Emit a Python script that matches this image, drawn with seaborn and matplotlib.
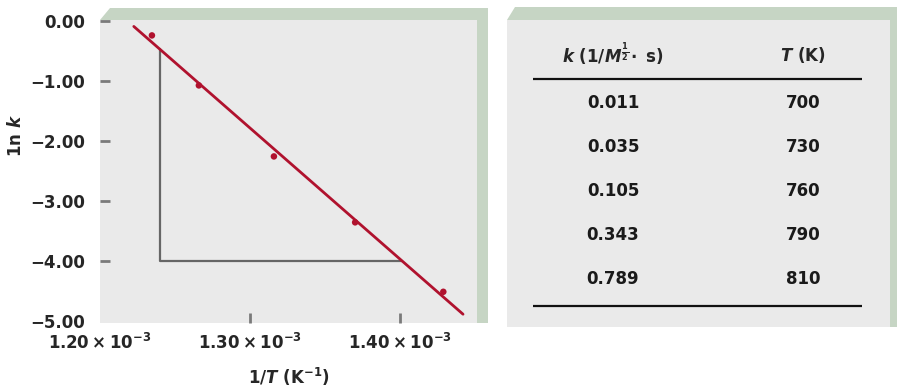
import numpy as np
import pandas as pd
import matplotlib
matplotlib.use("Agg")
import matplotlib.pyplot as plt
import seaborn as sns
from matplotlib.patches import Polygon

rate_k = [0.011, 0.035, 0.105, 0.343, 0.789]
temp_K = [700, 730, 760, 790, 810]
k_labels = ["0.011", "0.035", "0.105", "0.343", "0.789"]
T_labels = ["700", "730", "760", "790", "810"]

yticks = [0.0, -1.0, -2.0, -3.0, -4.0, -5.0]
ytick_labels = ["0.00", "\u22121.00", "\u22122.00", "\u22123.00", "\u22124.00", "\u22125.00"]
xticks = [1.20e-3, 1.30e-3, 1.40e-3]
xtick_labels = [r"$1.20\times10^{-3}$", r"$1.30\times10^{-3}$", r"$1.40\times10^{-3}$"]

fit_range = [1.2225e-3, 1.4417e-3]   # extent of the fitted line
slope_x = 1.24e-3                    # left side of the slope triangle
slope_y = -4.0                       # bottom side of the slope triangle

W, H = 897, 388
RED = "#b0122e"
GRAY_BG = "#eaeaea"
GREEN = "#c6d5c4"

sns.set_theme(style="white")
plt.rcParams["font.family"] = ["DejaVu Sans"]
plt.rcParams["font.weight"] = "bold"
plt.rcParams["mathtext.fontset"] = "custom"
plt.rcParams["mathtext.rm"] = "DejaVu Sans:bold"
plt.rcParams["mathtext.bf"] = "DejaVu Sans:bold"
plt.rcParams["mathtext.it"] = "DejaVu Sans:italic:bold"


def px(x, y):
    return (x / W, 1 - y / H)


def box(x0, y0, x1, y1):
    return [x0 / W, 1 - y1 / H, (x1 - x0) / W, (y1 - y0) / H]


df = pd.DataFrame({"k": rate_k, "T": temp_K})
df["invT"] = 1.0 / df["T"]
df["lnk"] = np.log(df["k"])
m, b = np.polyfit(df["invT"], df["lnk"], 1)
fit = pd.DataFrame({"x": fit_range})
fit["y"] = m * fit["x"] + b

fig = plt.figure(figsize=(W / 100, H / 100), dpi=100)

# green bevelled frames
fig.patches.append(Polygon([px(100, 20), px(110, 8), px(488, 8), px(488, 323),
                            px(477, 323), px(477, 20)], closed=True,
                           transform=fig.transFigure, facecolor=GREEN, edgecolor="none"))
fig.patches.append(Polygon([px(507, 20), px(515, 7), px(897, 7), px(897, 327),
                            px(890, 327), px(890, 20)], closed=True,
                           transform=fig.transFigure, facecolor=GREEN, edgecolor="none"))

# ---- left: Arrhenius plot
ax = fig.add_axes(box(100, 20, 477, 323))
ax.set_facecolor(GRAY_BG)
for s in ax.spines.values():
    s.set_visible(False)

sns.lineplot(data=fit, x="x", y="y", color=RED, lw=2.0, ax=ax, zorder=3)
sns.scatterplot(data=df, x="invT", y="lnk", color=RED, s=22, edgecolor="none", ax=ax, zorder=4)

x_int = (slope_y - b) / m
y_top = m * slope_x + b
ax.plot([slope_x, slope_x, x_int], [y_top, slope_y, slope_y], color="#666666", lw=1.6, zorder=2)

ax.set_xlim(1.2013e-3, 1.4510e-3)
ax.set_ylim(-5.03, 0.02)
ax.set_yticks(yticks)
ax.set_yticklabels(ytick_labels, fontsize=12, fontweight="bold")
ax.set_xticks(xticks)
ax.set_xticklabels(xtick_labels, fontsize=12)
ax.tick_params(axis="y", direction="in", length=7, width=2, color="#7a7a7a", pad=11, left=True)
ax.tick_params(axis="x", direction="in", length=7, width=2, color="#7a7a7a", pad=7, bottom=True)
ax.yaxis.get_major_ticks()[5].tick1line.set_visible(False)
ax.xaxis.get_major_ticks()[0].tick1line.set_visible(False)

ax.set_xlabel(r"$1/T\ (\mathrm{K}^{-1})$", fontsize=12)
ax.set_ylabel(r"$\mathrm{1n}\ k$", fontsize=12)
ax.xaxis.set_label_coords(0.5, -0.142)
ax.yaxis.set_label_coords(-0.2, 0.62)

# ---- right: data table
tx = fig.add_axes(box(507, 20, 890, 327))
tx.set_facecolor(GRAY_BG)
for s in tx.spines.values():
    s.set_visible(False)
tx.set_xticks([])
tx.set_yticks([])
tx.set_xlim(507, 890)
tx.set_ylim(327, 20)

col_k, col_T = 613, 803
tx.text(col_k, 55, r"$k\ (1/M^{\frac{1}{2}}\!\bullet\ \mathrm{s})$", ha="center", va="center", fontsize=12)
tx.text(col_T, 55, r"$T\ (\mathrm{K})$", ha="center", va="center", fontsize=12)
tx.hlines([79, 306], 533, 862, color="#111111", lw=1.6)
for i, (kl, tl) in enumerate(zip(k_labels, T_labels)):
    yy = 103 + 44 * i
    tx.text(col_k, yy, kl, ha="center", va="center", fontsize=12, fontweight="bold", color="#1a1a1a")
    tx.text(col_T, yy, tl, ha="center", va="center", fontsize=12, fontweight="bold", color="#1a1a1a")

fig.savefig("out.png", dpi=100)
